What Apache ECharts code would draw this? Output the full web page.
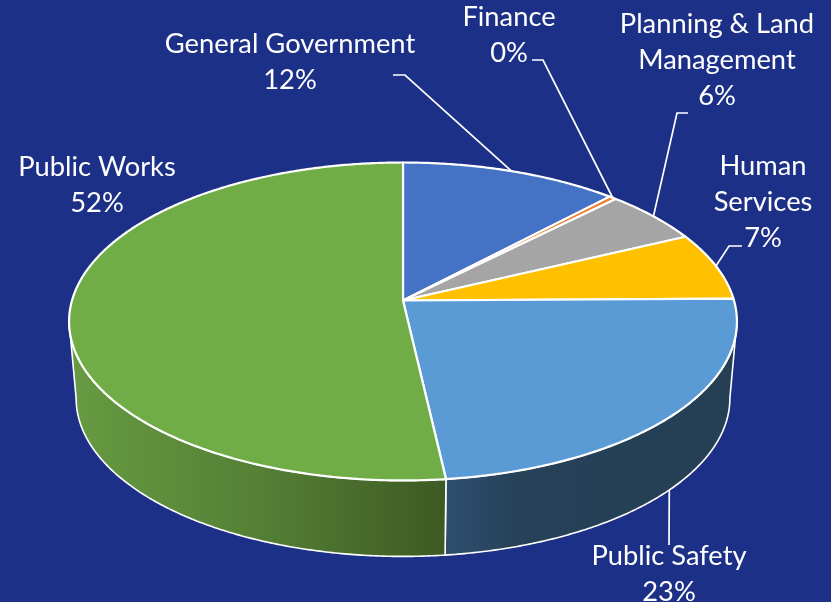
<!DOCTYPE html>
<html>
<head>
<meta charset="utf-8">
<style>html,body{margin:0;padding:0;background:#1d3088}#chart{width:831px;height:602px}</style>
<script src="https://cdn.jsdelivr.net/npm/echarts@6/dist/echarts.min.js"></script>
</head>
<body>
<div id="chart"></div>
<script>
// ---- chart data ----
var categories = ['General Government', 'Finance', 'Planning & Land\nManagement', 'Human\nServices', 'Public Safety', 'Public Works'];
var values = [12.0, 0.4, 5.5, 6.9, 23.4, 51.8];

// ---- styling / layout ----
var colors = ['#4472C4', '#ED7D31', '#A5A5A5', '#FFC000', '#5B9BD5', '#70AD47'];
var wallStops = [
  null, null, null, null,
  [[0, '#2f4f70'], [0.25, '#264158'], [1, '#254054']],
  [[0, '#679b42'], [0.5, '#558036'], [1, '#3d5a22']]
];
var labelCenters = [[290, 62], [509, 35], [717, 60], [763, 202], [669, 574], [97, 185.5]];
var leaderElbows = [
  [[393, 75], [405, 75]],
  [[532, 60], [543, 60]],
  [[688, 113], [677, 113]],
  [[742, 246], [729, 246]],
  [[669, 545]],
  null
];
var leaderOnBase = [false, false, false, false, true, false];
var TOP = {cx: 403, cy: 300.5, a: 331, b: 156.2};
var BASE = {cx: 403, cy: 377.5, a: 324, b: 155.3};
var K = 0.132;
var FRONT_START = 97.6, FRONT_END = 262.4;
var FONT = '27.3px Lato, "Open Sans", sans-serif';
var BG = '#1d3088';

// ---- projection of the disc ----
var total = values.reduce(function (s, v) { return s + v; }, 0);
function project(disc, deg) {
  var t = deg * Math.PI / 180, u = Math.sin(t), v = Math.cos(t), w = 1 + K * v;
  return [disc.cx + disc.a * u / w, disc.cy - disc.b * v / w];
}
function arc(disc, from, to) {
  var pts = [], n = Math.max(2, Math.ceil(Math.abs(to - from) / 0.5));
  for (var i = 0; i <= n; i++) pts.push(project(disc, from + (to - from) * i / n));
  return pts;
}
function sliceRange(i) {
  var before = 0;
  for (var j = 0; j < i; j++) before += values[j];
  return [before / total * 360, (before + values[i]) / total * 360];
}
function seriesData() {
  return categories.map(function (c, i) { return {name: c, value: values[i]}; });
}

function renderWall(params) {
  var i = params.dataIndex, r = sliceRange(i);
  var from = Math.max(r[0], FRONT_START), to = Math.min(r[1], FRONT_END);
  if (to <= from || !wallStops[i]) return {type: 'group', children: []};
  var pts = arc(TOP, from, to).concat(arc(BASE, to, from));
  var stops = wallStops[i].map(function (s) { return {offset: s[0], color: s[1]}; });
  return {
    type: 'polygon',
    shape: {points: pts},
    style: {
      fill: new echarts.graphic.LinearGradient(0, 0, 1, 0, stops),
      stroke: '#fff', lineWidth: 1.6, lineJoin: 'round'
    }
  };
}
function renderTop(params) {
  var i = params.dataIndex, r = sliceRange(i);
  var pts = [[TOP.cx, TOP.cy]].concat(arc(TOP, r[0], r[1]));
  return {
    type: 'polygon',
    shape: {points: pts},
    style: {fill: colors[i], stroke: '#fff', lineWidth: 2.2, lineJoin: 'round'}
  };
}
function renderLabel(params) {
  var i = params.dataIndex, r = sliceRange(i), c = labelCenters[i];
  var children = [{
    type: 'text',
    style: {
      text: categories[i] + '\n' + Math.round(values[i] / total * 100) + '%',
      x: c[0], y: c[1], fill: '#fff', font: FONT, lineHeight: 36,
      textAlign: 'center', textVerticalAlign: 'middle', verticalAlign: 'middle'
    }
  }];
  if (leaderElbows[i]) {
    var end = project(leaderOnBase[i] ? BASE : TOP, (r[0] + r[1]) / 2);
    children.push({
      type: 'polyline',
      shape: {points: leaderElbows[i].concat([end])},
      style: {fill: 'none', stroke: '#fff', lineWidth: 1.7}
    });
  }
  return {type: 'group', children: children};
}

var chart = echarts.init(document.getElementById('chart'), null, {renderer: 'canvas'});
chart.setOption({
  backgroundColor: BG,
  animation: false,
  tooltip: {show: false},
  series: [
    {type: 'custom', coordinateSystem: 'none', data: seriesData(), renderItem: renderWall, z: 1, silent: true},
    {type: 'custom', coordinateSystem: 'none', data: seriesData(), renderItem: renderTop, z: 2, silent: true},
    {type: 'custom', coordinateSystem: 'none', data: seriesData(), renderItem: renderLabel, z: 3, silent: true}
  ]
});
</script>
</body>
</html>
